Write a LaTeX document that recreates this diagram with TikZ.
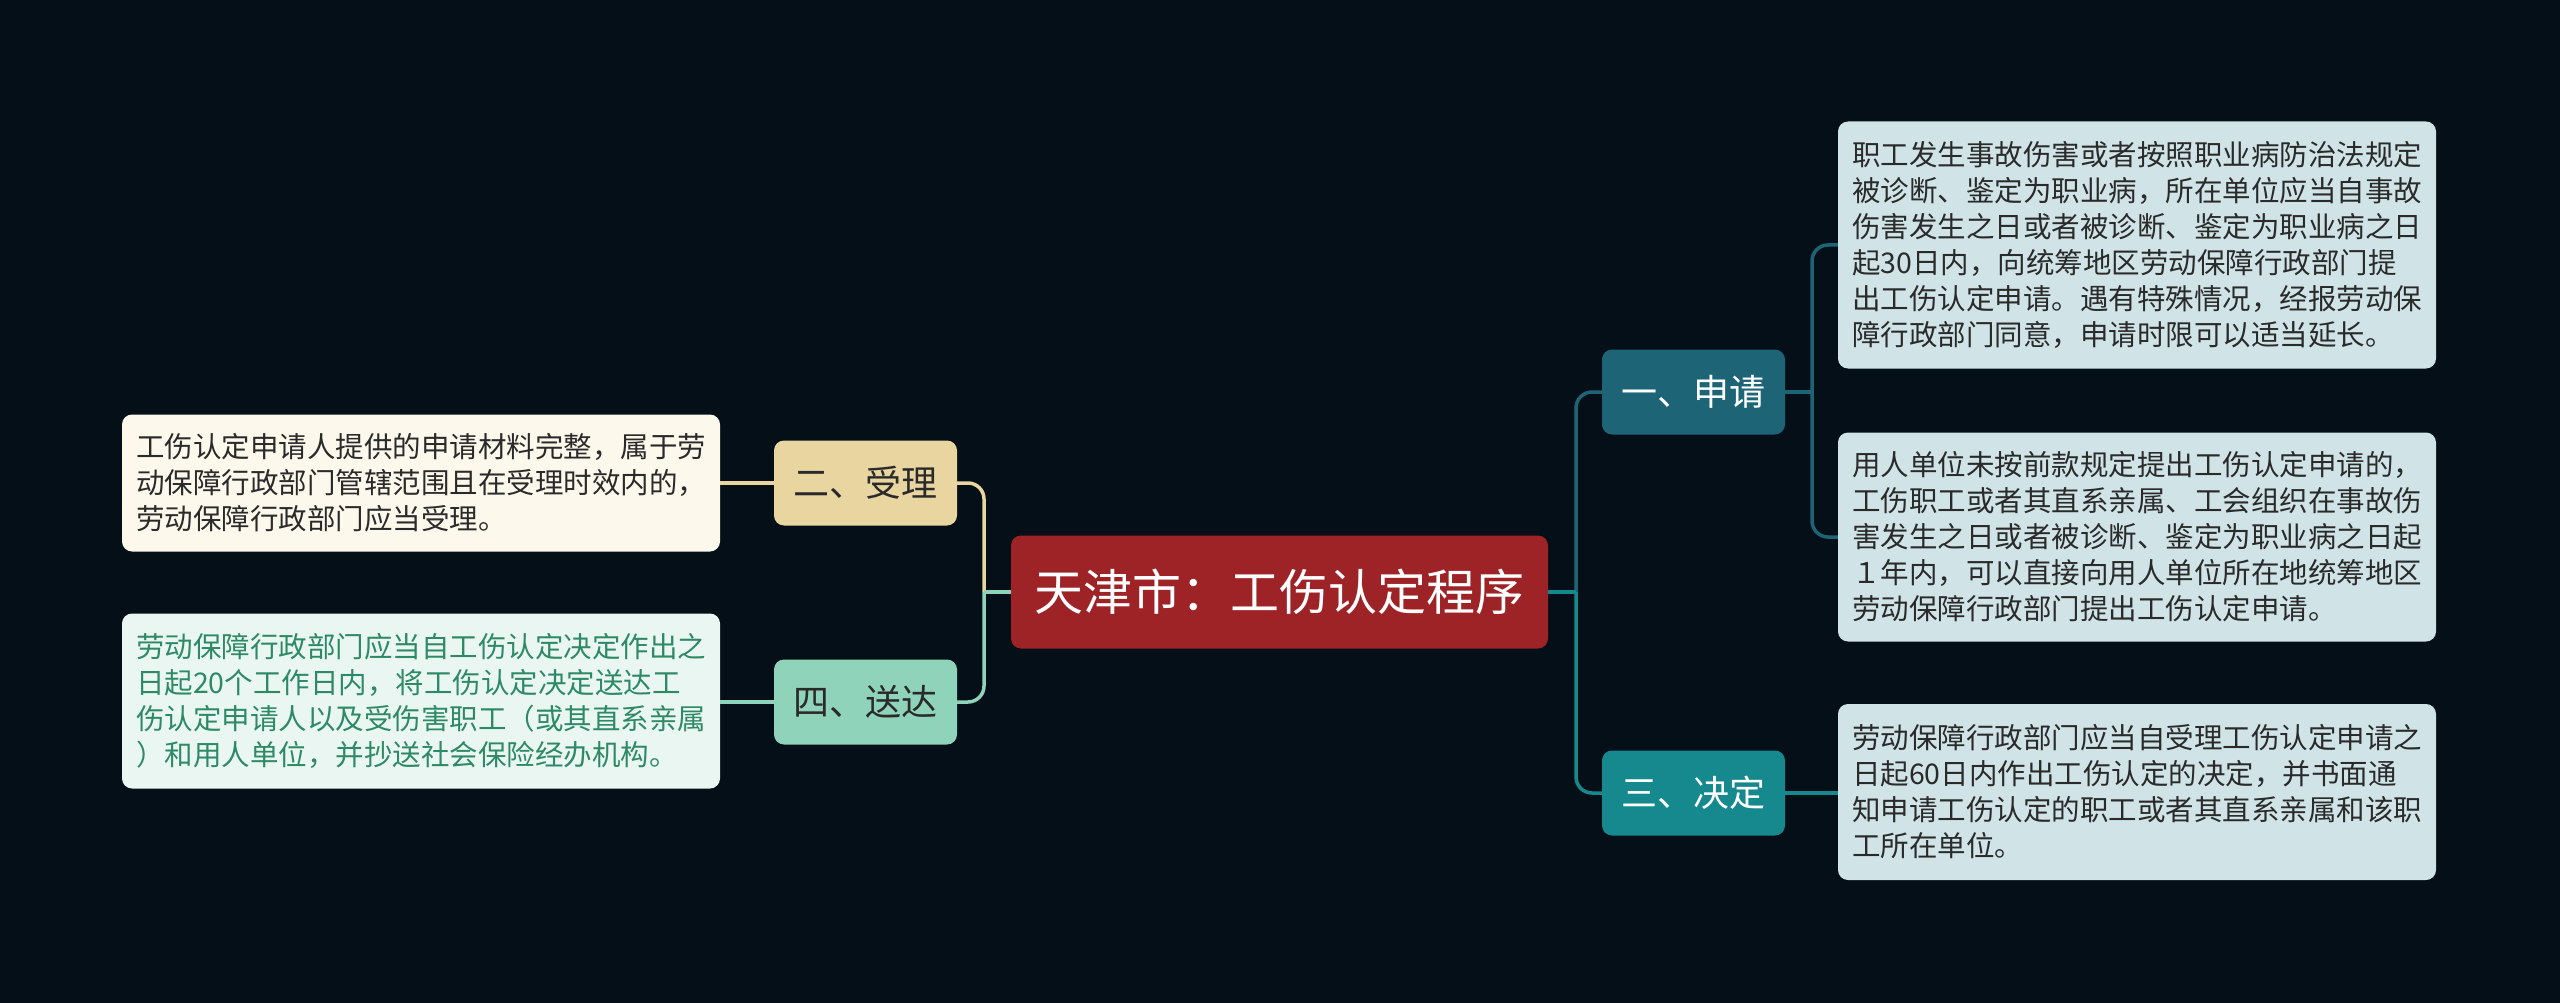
\documentclass[tikz,border=0pt]{standalone}
\usepackage{fontspec}
\setmainfont{Noto Sans CJK SC}
\definecolor{bg}{HTML}{040F17}
\definecolor{rootc}{HTML}{9E2327}
\definecolor{tan}{HTML}{E8D5A0}
\definecolor{mint}{HTML}{8FD3BB}
\definecolor{dteal}{HTML}{1D6476}
\definecolor{teal}{HTML}{16898E}
\definecolor{leafblue}{HTML}{D0E4E7}
\definecolor{leafcream}{HTML}{FCF8EC}
\definecolor{leafmint}{HTML}{EAF6F2}
\definecolor{greentext}{HTML}{2E8A66}
\definecolor{darktext}{HTML}{2A2A2A}
\tikzset{
  leafbox/.style={rounded corners=10pt, text width=570pt, align=left, inner xsep=14pt, inner ysep=0pt,
    minimum width=598pt, font=\fontsize{28.5}{36}\selectfont, text=darktext},
  branchbox/.style={rounded corners=10pt, minimum width=183pt, minimum height=85pt, inner sep=0pt,
    font=\fontsize{36}{40}\selectfont},
  conn/.style={line width=3.5pt},
  curvedconn/.style={line width=3.5pt, rounded corners=16pt}
}
\begin{document}
\begin{tikzpicture}[x=1pt,y=-1pt]
\useasboundingbox (0,0) rectangle (2560,1003);
\fill[bg] (0,0) rectangle (2560,1003);

% root
\node[fill=rootc, rounded corners=10pt, minimum width=537pt, minimum height=113pt, inner sep=0pt,
  text=white, font=\fontsize{49}{54}\selectfont] (root) at (1279.5,592) {天津市：工伤认定程序};

% branches
\node[branchbox, fill=tan, text=darktext] (b2) at (865.5,483) {二、受理};
\node[branchbox, fill=mint, text=darktext] (b4) at (865.5,702) {四、送达};
\node[branchbox, fill=dteal, text=white] (b1) at (1693.5,392) {一、申请};
\node[branchbox, fill=teal, text=white] (b3) at (1693.5,793) {三、决定};

% leaves
\node[leafbox, fill=leafcream, minimum height=137pt] (l2) at (421,483) {工伤认定申请人提供的申请材料完整，属于劳\\动保障行政部门管辖范围且在受理时效内的，\\劳动保障行政部门应当受理。};
\node[leafbox, fill=leafmint, text=greentext, minimum height=175pt] (l4) at (421,701) {劳动保障行政部门应当自工伤认定决定作出之\\日起20个工作日内，将工伤认定决定送达工\\伤认定申请人以及受伤害职工（或其直系亲属\\）和用人单位，并抄送社会保险经办机构。};
\node[leafbox, fill=leafblue, minimum height=247pt] (r1) at (2137,245) {职工发生事故伤害或者按照职业病防治法规定\\被诊断、鉴定为职业病，所在单位应当自事故\\伤害发生之日或者被诊断、鉴定为职业病之日\\起30日内，向统筹地区劳动保障行政部门提\\出工伤认定申请。遇有特殊情况，经报劳动保\\障行政部门同意，申请时限可以适当延长。};
\node[leafbox, fill=leafblue, minimum height=209pt] (r2) at (2137,537) {用人单位未按前款规定提出工伤认定申请的，\\工伤职工或者其直系亲属、工会组织在事故伤\\害发生之日或者被诊断、鉴定为职业病之日起\\１年内，可以直接向用人单位所在地统筹地区\\劳动保障行政部门提出工伤认定申请。};
\node[leafbox, fill=leafblue, minimum height=176pt] (r3) at (2137,792) {劳动保障行政部门应当自受理工伤认定申请之\\日起60日内作出工伤认定的决定，并书面通\\知申请工伤认定的职工或者其直系亲属和该职\\工所在单位。};

% spine coordinates
\coordinate (sR) at (1576,592);
\coordinate (sL) at (984,592);
\coordinate (s1) at (1812,392);

% connectors
\draw[curvedconn, dteal] (sR) |- (b1.west);
\draw[curvedconn, teal] (sR) |- (b3.west);
\draw[conn, teal] (root.east) -- (sR);
\draw[curvedconn, tan] (sL) |- (b2.east);
\draw[curvedconn, mint] (sL) |- (b4.east);
\draw[conn, mint] (root.west) -- (sL);
\draw[curvedconn, dteal] (s1) |- (r1.west);
\draw[curvedconn, dteal] (s1) |- (r2.west);
\draw[conn, dteal] (b1.east) -- (s1);
\draw[conn, teal] (b3.east) -- (r3.west |- b3.east);
\draw[conn, tan] (b2.west) -- (l2.east |- b2.west);
\draw[conn, mint] (b4.west) -- (l4.east |- b4.west);
\end{tikzpicture}
\end{document}
